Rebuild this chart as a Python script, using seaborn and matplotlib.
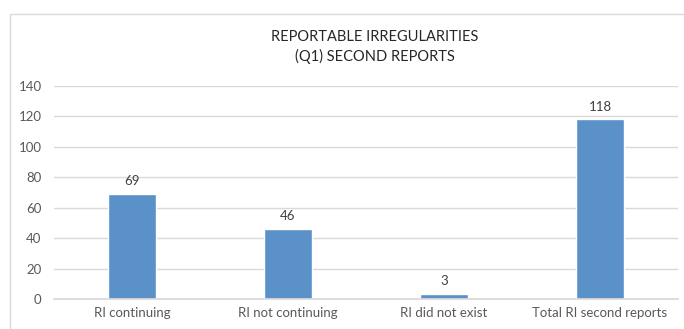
import matplotlib
matplotlib.use("Agg")
import matplotlib.pyplot as plt
import seaborn as sns
import pandas as pd
from matplotlib.patches import Rectangle

categories = ["RI continuing", "RI not continuing", "RI did not exist", "Total RI second reports"]
values = [69, 46, 3, 118]
yticks = [0, 20, 40, 60, 80, 100, 120, 140]
title = "REPORTABLE IRREGULARITIES\n(Q1) SECOND REPORTS"

sns.set_theme(style="white")
plt.rcParams['font.family'] = ['Lato', 'DejaVu Sans']

df = pd.DataFrame({"cat": categories, "val": values})
fig = plt.figure(figsize=(6.84, 3.29), dpi=100)
ax = fig.add_axes([54/684, 30/329, 624/684, 213/329])
sns.barplot(data=df, x="cat", y="val", color="#5B91C9", width=0.31, ax=ax, saturation=1)
ax.set_ylim(0, 140)
ax.set_yticks(yticks)
ax.set_xlim(-0.5, 3.5)
ax.yaxis.grid(True, color="#D9D9D9", linewidth=1)
ax.set_axisbelow(True)
for s in ax.spines.values():
    s.set_visible(False)
ax.spines['bottom'].set_visible(True)
ax.spines['bottom'].set_color("#D9D9D9")
ax.set_xlabel("")
ax.set_ylabel("")
ax.tick_params(axis='both', length=0, labelsize=9.5, colors="#595959")
ax.tick_params(axis='y', pad=9)
ax.tick_params(axis='x', pad=6)
for c in ax.containers:
    ax.bar_label(c, labels=[str(v) for v in values], padding=5, fontsize=9.5, color="#404040")
fig.text(375/684, 1 - 47/329, title, ha="center", va="center", fontsize=10.5, color="#262626", linespacing=1.45)
fig.patches.append(Rectangle((10/684, -0.1), 1.2, (329-14)/329 + 0.1, transform=fig.transFigure,
                             fill=False, edgecolor="#D9D9D9", linewidth=1))
fig.savefig("out.png", dpi=100)
